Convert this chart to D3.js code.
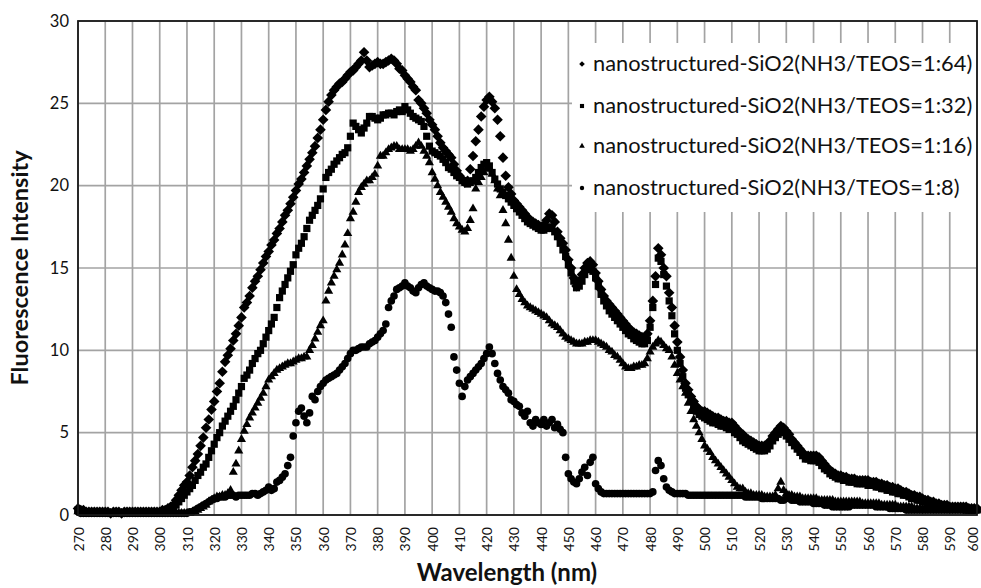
<!DOCTYPE html>
<html>
<head>
<meta charset="utf-8">
<script src="https://cdn.jsdelivr.net/npm/d3@7"></script>
<style>
  html, body { margin: 0; padding: 0; background: #fff; }
  svg { display: block; }
  text { font-family: Lato, "Open Sans", sans-serif; fill: #111; }
</style>
</head>
<body>
<svg id="chart" width="981" height="588"></svg>
<script>
// Emission wavelengths (nm), sampled every 1 nm
const wavelengths = d3.range(270, 601, 1);

const xTickValues = [270,280,290,300,310,320,330,340,350,360,370,380,390,400,410,420,430,440,450,460,470,480,490,500,510,520,530,540,550,560,570,580,590,600];
const yTickValues = [0,5,10,15,20,25,30];

const seriesNames = [
  "nanostructured-SiO2(NH3/TEOS=1:64)",
  "nanostructured-SiO2(NH3/TEOS=1:32)",
  "nanostructured-SiO2(NH3/TEOS=1:16)",
  "nanostructured-SiO2(NH3/TEOS=1:8)"
];

// Fluorescence intensity, NH3/TEOS = 1:64
const intensity64 = [
  0.4,0.3,0.3,0.2,0.2,0.2,0.2,0.2,0.2,0.2,
  0.2,0.2,0.1,0.2,0.2,0.2,0.1,0.2,0.2,0.2,
  0.2,0.2,0.2,0.2,0.2,0.2,0.2,0.2,0.2,0.2,
  0.2,0.3,0.3,0.4,0.5,0.6,0.9,1.2,1.5,1.8,
  2.0,2.4,2.9,3.3,3.7,4.2,4.7,5.3,5.8,6.4,
  6.9,7.5,8.0,8.7,9.3,9.7,10.1,10.6,11.0,11.5,
  12.0,12.6,12.9,13.3,13.8,14.2,14.5,14.9,15.3,15.7,
  16.0,16.4,16.7,17.1,17.4,17.8,18.2,18.5,18.9,19.3,
  19.7,20.1,20.4,20.8,21.2,21.6,22.0,22.4,22.9,23.4,
  24.0,24.6,25.1,25.5,25.8,26.0,26.2,26.3,26.5,26.7,
  26.9,27.0,27.2,27.4,27.6,28.1,27.6,27.2,27.3,27.4,
  27.5,27.4,27.4,27.5,27.6,27.7,27.6,27.4,27.1,27.0,
  26.7,26.5,26.3,26.0,25.8,25.2,25.0,24.7,24.4,24.0,
  23.7,23.4,23.0,22.6,22.3,22.1,21.9,21.7,21.3,20.9,
  20.6,20.4,20.2,20.3,21.0,21.8,22.7,23.4,24.2,24.8,
  25.2,25.4,25.1,24.7,24.0,23.0,21.7,20.6,19.9,19.5,
  19.1,18.9,18.7,18.5,18.3,18.1,17.9,17.8,17.7,17.6,
  17.5,17.6,17.9,18.3,18.2,17.8,17.2,16.8,16.5,16.1,
  15.5,15.0,14.4,13.9,14.2,14.6,15.0,15.3,15.4,15.2,
  14.7,14.2,13.7,13.3,13.0,12.8,12.6,12.4,12.2,12.0,
  11.8,11.6,11.4,11.2,11.1,11.0,10.9,10.8,10.7,11.0,
  11.8,13.0,14.5,16.2,15.8,15.0,14.5,13.5,12.6,11.5,
  10.5,9.6,8.8,8.0,7.6,7.2,6.9,6.6,6.4,6.3,
  6.3,6.2,6.1,6.0,5.9,5.9,5.8,5.7,5.7,5.6,
  5.6,5.4,5.2,5.0,4.9,4.7,4.6,4.5,4.4,4.3,
  4.2,4.2,4.2,4.3,4.5,4.8,5.0,5.2,5.4,5.3,
  5.1,4.9,4.6,4.4,4.2,4.0,3.8,3.6,3.6,3.6,
  3.6,3.6,3.5,3.3,3.1,2.9,2.7,2.6,2.5,2.4,
  2.4,2.3,2.3,2.2,2.2,2.2,2.1,2.1,2.1,2.1,
  2.1,2.0,2.0,2.0,1.9,1.9,1.8,1.8,1.7,1.7,
  1.6,1.6,1.5,1.4,1.4,1.3,1.2,1.2,1.1,1.1,
  1.0,0.9,0.9,0.8,0.8,0.7,0.7,0.6,0.6,0.6,
  0.5,0.5,0.5,0.5,0.5,0.5,0.5,0.4,0.4,0.4,
  0.4
];

// Fluorescence intensity, NH3/TEOS = 1:32
const intensity32 = [
  0.3,0.2,0.2,0.1,0.1,0.1,0.1,0.1,0.1,0.1,
  0.1,0.1,0.1,0.1,0.1,0.1,0.1,0.1,0.1,0.1,
  0.1,0.1,0.1,0.1,0.1,0.1,0.1,0.1,0.1,0.1,
  0.1,0.1,0.2,0.2,0.3,0.5,0.6,0.8,1.0,1.2,
  1.4,1.6,1.8,2.1,2.4,2.6,2.9,3.1,3.5,3.9,
  4.3,4.7,5.0,5.4,5.7,6.0,6.3,6.6,7.0,7.4,
  7.8,8.3,8.5,8.8,9.2,9.5,9.8,10.0,10.4,10.8,
  11.2,11.6,12.0,12.6,13.2,13.6,14.0,14.4,14.8,15.2,
  15.8,16.2,16.5,16.9,17.4,17.9,18.2,18.5,18.8,19.2,
  19.8,20.5,20.8,21.0,21.3,21.5,21.7,21.9,22.0,22.3,
  23.0,23.8,23.6,23.4,23.2,23.5,23.8,24.2,24.2,24.1,
  24.0,24.1,24.3,24.3,24.4,24.4,24.3,24.5,24.6,24.5,
  24.8,24.6,24.4,24.2,24.1,24.0,23.9,23.6,23.0,22.4,
  22.1,22.0,21.9,21.8,21.6,21.4,21.1,21.0,20.8,20.6,
  20.5,20.3,20.2,20.1,20.2,20.3,20.5,20.8,21.1,21.3,
  21.4,21.2,20.8,20.4,20.1,19.8,19.6,19.4,19.2,19.0,
  18.8,18.6,18.4,18.2,18.0,17.8,17.7,17.6,17.5,17.4,
  17.3,17.3,17.4,17.5,17.4,17.2,16.9,16.5,16.1,15.7,
  15.2,14.7,14.2,13.8,13.9,14.2,14.6,14.9,15.0,14.8,
  14.4,13.9,13.4,13.0,12.7,12.4,12.2,12.0,11.8,11.6,
  11.4,11.2,11.0,10.9,10.7,10.6,10.5,10.4,10.4,10.6,
  11.4,12.6,14.0,15.6,15.4,14.6,13.9,13.0,12.1,11.0,
  10.0,9.2,8.4,7.7,7.3,6.9,6.6,6.3,6.1,6.0,
  5.9,5.8,5.7,5.6,5.6,5.5,5.4,5.4,5.3,5.2,
  5.2,5.0,4.9,4.7,4.5,4.4,4.3,4.2,4.1,4.0,
  3.9,3.9,3.9,4.0,4.2,4.5,4.7,4.9,5.1,5.0,
  4.8,4.6,4.4,4.2,4.0,3.8,3.6,3.4,3.4,3.3,
  3.3,3.3,3.2,3.0,2.8,2.7,2.5,2.4,2.3,2.2,
  2.2,2.1,2.1,2.0,2.0,2.0,1.9,1.9,1.9,1.9,
  1.8,1.8,1.8,1.7,1.7,1.6,1.6,1.5,1.5,1.4,
  1.4,1.3,1.3,1.2,1.2,1.1,1.0,1.0,0.9,0.9,
  0.8,0.8,0.7,0.7,0.6,0.6,0.6,0.5,0.5,0.5,
  0.4,0.4,0.4,0.4,0.4,0.4,0.3,0.3,0.3,0.3,
  0.3
];

// Fluorescence intensity, NH3/TEOS = 1:16
const intensity16 = [
  0.2,0.1,0.1,0.1,0.1,0.1,0.1,0.1,0.1,0.1,
  0.1,0.1,0.1,0.1,0.1,0.1,0.1,0.1,0.1,0.1,
  0.1,0.1,0.1,0.1,0.1,0.1,0.1,0.1,0.1,0.1,
  0.1,0.1,0.1,0.1,0.1,0.1,0.1,0.1,0.1,0.1,
  0.1,0.1,0.2,0.2,0.3,0.4,0.5,0.6,0.8,0.9,
  1.0,1.1,1.1,1.2,1.2,1.3,1.5,2.6,3.1,3.9,
  4.6,5.1,5.5,5.9,6.2,6.5,6.8,7.1,7.4,7.8,
  8.2,8.4,8.6,8.8,8.9,9.0,9.1,9.2,9.2,9.3,
  9.4,9.5,9.5,9.6,9.6,10.0,10.3,10.7,11.1,11.5,
  11.8,13.0,13.6,14.1,14.5,14.9,15.3,15.8,16.4,17.1,
  18.0,18.4,19.0,19.6,19.9,20.1,20.3,20.3,20.5,20.7,
  21.2,21.8,21.8,22.0,22.2,22.3,22.4,22.4,22.2,22.2,
  22.2,22.2,22.1,22.2,22.4,22.6,22.4,22.1,21.8,21.4,
  20.8,20.4,20.0,19.6,19.3,19.0,18.7,18.4,18.0,17.7,
  17.5,17.3,17.2,17.4,17.9,18.6,19.8,20.2,20.5,20.8,
  21.0,21.1,20.7,20.3,19.8,19.4,18.5,17.7,16.7,15.6,
  14.5,13.7,13.4,13.1,12.9,12.7,12.6,12.5,12.4,12.3,
  12.2,12.1,12.0,11.8,11.6,11.5,11.4,11.2,11.0,10.8,
  10.7,10.6,10.5,10.4,10.4,10.4,10.5,10.5,10.6,10.6,
  10.6,10.5,10.4,10.3,10.2,10.0,9.9,9.7,9.6,9.4,
  9.2,9.0,8.9,8.9,9.0,9.0,9.1,9.1,9.2,9.5,
  9.9,10.2,10.4,10.6,10.5,10.3,10.1,10.0,9.6,9.1,
  8.6,8.2,7.8,7.4,6.8,6.3,5.8,5.4,5.0,4.6,
  4.2,4.0,3.8,3.5,3.3,3.1,2.9,2.7,2.5,2.3,
  2.1,1.9,1.7,1.6,1.6,1.4,1.3,1.3,1.2,1.2,
  1.2,1.2,1.1,1.1,1.1,1.1,1.2,1.6,2.0,1.5,
  1.3,1.2,1.2,1.1,1.1,1.1,1.0,1.0,1.0,1.0,
  1.0,1.0,0.9,0.9,0.9,0.9,0.9,0.9,0.8,0.8,
  0.8,0.8,0.8,0.8,0.8,0.8,0.8,0.8,0.7,0.7,
  0.7,0.7,0.7,0.7,0.7,0.6,0.6,0.6,0.6,0.6,
  0.6,0.5,0.5,0.5,0.5,0.5,0.5,0.4,0.4,0.4,
  0.4,0.4,0.4,0.3,0.3,0.3,0.3,0.3,0.3,0.3,
  0.3,0.3,0.3,0.3,0.3,0.3,0.3,0.3,0.3,0.3,
  0.3
];

// Fluorescence intensity, NH3/TEOS = 1:8
const intensity8 = [
  0.2,0.1,0.1,0.1,0.1,0.1,0.1,0.1,0.1,0.1,
  0.1,0.1,0.1,0.1,0.1,0.1,0.1,0.1,0.1,0.1,
  0.1,0.1,0.1,0.1,0.1,0.1,0.1,0.1,0.1,0.1,
  0.1,0.1,0.1,0.1,0.1,0.1,0.1,0.1,0.1,0.1,
  0.1,0.2,0.2,0.3,0.4,0.5,0.6,0.7,0.8,0.9,
  1.0,1.0,1.1,1.1,1.1,1.2,1.2,1.2,1.1,1.2,
  1.2,1.2,1.2,1.2,1.3,1.3,1.2,1.3,1.4,1.5,
  1.7,1.5,1.6,2.0,2.1,2.3,2.5,3.0,3.5,4.8,
  5.6,6.3,6.5,6.0,5.6,6.2,7.2,7.0,7.5,7.8,
  8.0,8.2,8.3,8.4,8.5,8.6,8.8,9.0,9.2,9.5,
  9.8,10.0,10.0,10.1,10.2,10.2,10.2,10.4,10.5,10.6,
  10.8,11.0,11.2,11.6,12.6,13.0,13.3,13.7,13.8,13.9,
  14.1,13.9,13.8,13.6,13.5,13.8,14.0,14.1,13.9,13.8,
  13.7,13.6,13.6,13.5,13.3,12.9,12.2,11.4,9.6,8.8,
  8.0,7.2,7.8,8.2,8.4,8.6,8.8,9.0,9.2,9.5,
  9.8,10.2,9.8,9.2,8.6,8.2,7.8,7.6,7.4,7.0,
  6.9,6.7,6.6,6.2,6.0,6.3,5.6,5.4,5.8,5.6,
  5.5,5.8,5.4,5.6,5.8,5.3,5.5,5.2,5.0,3.5,
  2.5,2.2,2.0,1.9,2.2,2.6,2.9,2.4,3.2,3.5,
  1.9,1.6,1.4,1.3,1.3,1.3,1.3,1.3,1.3,1.3,
  1.3,1.3,1.3,1.3,1.3,1.3,1.3,1.3,1.3,1.3,
  1.3,1.4,2.7,3.3,3.0,2.2,1.7,1.5,1.4,1.3,
  1.3,1.3,1.3,1.3,1.2,1.2,1.2,1.2,1.2,1.2,
  1.2,1.2,1.2,1.2,1.2,1.2,1.2,1.2,1.2,1.2,
  1.2,1.2,1.2,1.2,1.2,1.1,1.1,1.1,1.1,1.1,
  1.1,1.0,1.0,1.0,1.0,1.0,1.0,1.0,0.9,0.9,
  1.0,1.0,0.9,0.9,0.9,0.8,0.8,0.8,0.8,0.8,
  0.7,0.7,0.7,0.7,0.6,0.6,0.6,0.5,0.5,0.5,
  0.5,0.5,0.5,0.5,0.6,0.6,0.6,0.6,0.6,0.6,
  0.6,0.6,0.6,0.5,0.5,0.5,0.5,0.5,0.4,0.4,
  0.4,0.4,0.4,0.4,0.3,0.3,0.3,0.3,0.3,0.3,
  0.3,0.3,0.3,0.3,0.3,0.3,0.3,0.3,0.3,0.3,
  0.3,0.3,0.3,0.3,0.3,0.3,0.3,0.3,0.3,0.3,
  0.3
];

const seriesValues = [intensity64, intensity32, intensity16, intensity8];

// Square rotated 45 degrees (Excel-style diamond marker)
const diamondSymbol = d3.symbolDiamond2 || {
  draw(ctx, size) {
    const r = Math.sqrt(size) * 0.62625;
    ctx.moveTo(0, -r); ctx.lineTo(r, 0); ctx.lineTo(0, r); ctx.lineTo(-r, 0); ctx.closePath();
  }
};
const markerTypes = [diamondSymbol, d3.symbolSquare, d3.symbolTriangle, d3.symbolCircle];
const markerSizes = [72, 52, 36, 46];
const legendMarkerSizes = [20, 17, 14, 15];

const width = 981, height = 588;
const margin = { top: 21, right: 4, bottom: 73, left: 78 };
const plotW = width - margin.left - margin.right;
const plotH = height - margin.top - margin.bottom;

const svg = d3.select("#chart");
const g = svg.append("g").attr("transform", `translate(${margin.left},${margin.top})`);

const x = d3.scaleLinear().domain([270, 600]).range([0, plotW]);
const y = d3.scaleLinear().domain([0, 30]).range([plotH, 0]);

// Grid
const grid = g.append("g").attr("stroke", "#a3a3a3").attr("stroke-width", 1.7);
grid.selectAll("line.v").data(xTickValues).join("line")
  .attr("class", "v")
  .attr("x1", d => x(d)).attr("x2", d => x(d))
  .attr("y1", 0).attr("y2", plotH);
grid.selectAll("line.h").data(yTickValues).join("line")
  .attr("class", "h")
  .attr("x1", 0).attr("x2", plotW)
  .attr("y1", d => y(d)).attr("y2", d => y(d));

// Axis labels
const xAxis = g.append("g")
  .attr("transform", `translate(0,${plotH})`)
  .call(d3.axisBottom(x).tickValues(xTickValues).tickSize(0).tickFormat(d3.format("d")));
xAxis.select(".domain").remove();
xAxis.selectAll("text")
  .attr("transform", "rotate(-90)")
  .attr("text-anchor", "end")
  .attr("x", -12)
  .attr("y", d => (d === 600 ? -5 : 0))
  .attr("dy", "0.36em")
  .style("font-family", "Lato, 'Open Sans', sans-serif")
  .style("font-size", "14px")
  .style("fill", "#111");

const yAxis = g.append("g")
  .call(d3.axisLeft(y).tickValues(yTickValues).tickSize(0).tickFormat(d3.format("d")));
yAxis.select(".domain").remove();
yAxis.selectAll("text")
  .attr("x", -9)
  .style("font-family", "Lato, 'Open Sans', sans-serif")
  .style("font-size", "16.5px")
  .style("fill", "#111");

// Data markers
seriesValues.forEach((values, i) => {
  const pts = wavelengths.map((w, k) => [w, values[k]]);
  const sym = d3.symbol().type(markerTypes[i]).size(markerSizes[i]);
  g.append("g")
    .attr("fill", "#000")
    .selectAll("path")
    .data(pts)
    .join("path")
    .attr("transform", d => `translate(${x(d[0])},${y(d[1])})`)
    .attr("d", sym);
});

// Plot frame
g.append("rect")
  .attr("x", 0).attr("y", 0).attr("width", plotW).attr("height", plotH)
  .attr("fill", "none").attr("stroke", "#1a1a1a").attr("stroke-width", 1.8);

// Legend
const legend = g.append("g").attr("transform", `translate(${572 - margin.left},${43 - margin.top})`);
legend.append("rect")
  .attr("x", 0).attr("y", 0)
  .attr("width", plotW - (572 - margin.left) - 1)
  .attr("height", 169)
  .attr("fill", "#fff");
const rowY = [20, 62, 102, 144];
seriesNames.forEach((name, i) => {
  const row = legend.append("g").attr("transform", `translate(0,${rowY[i]})`);
  row.append("path")
    .attr("transform", "translate(10,1)")
    .attr("d", d3.symbol().type(markerTypes[i]).size(legendMarkerSizes[i]))
    .attr("fill", "#000");
  row.append("text")
    .attr("x", 21)
    .attr("y", 0)
    .attr("dy", "0.35em")
    .style("font-size", "21.8px")
    .text(name);
});

// Axis titles
svg.append("text")
  .attr("transform", `translate(20,${margin.top + plotH / 2}) rotate(-90)`)
  .attr("text-anchor", "middle")
  .attr("dy", "0.35em")
  .style("font-size", "23.5px")
  .style("font-weight", "bold")
  .text("Fluorescence Intensity");

svg.append("text")
  .attr("x", 507)
  .attr("y", 581)
  .attr("text-anchor", "middle")
  .style("font-size", "24px")
  .style("font-weight", "bold")
  .text("Wavelength (nm)");
</script>
</body>
</html>
